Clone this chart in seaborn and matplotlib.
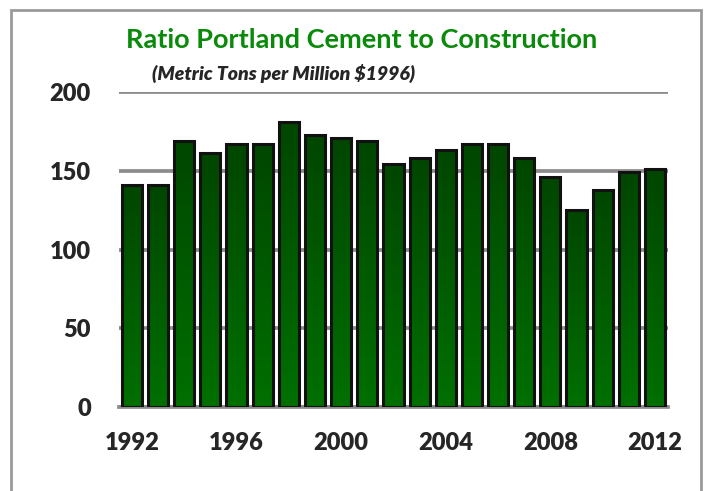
import numpy as np
import pandas as pd
import matplotlib
matplotlib.use("Agg")
import matplotlib.pyplot as plt
from matplotlib.colors import LinearSegmentedColormap
from matplotlib.patches import Rectangle
import seaborn as sns

# data
years = [str(y) for y in range(1992, 2013)]
ratio = [141, 141, 169, 161, 167, 167, 181, 173, 171, 169, 154, 158,
         163, 167, 167, 158, 146, 125, 138, 149, 151]
tick_years = ["1992", "1996", "2000", "2004", "2008", "2012"]
y_ticks = [0, 50, 100, 150, 200]

df = pd.DataFrame({"year": years, "ratio": ratio})

sns.set_style("white")
plt.rcParams['font.family'] = ['Lato', 'DejaVu Sans']

fig = plt.figure(figsize=(7.07, 4.91), dpi=100)
ax = fig.add_axes([0.168, 0.171, 0.777, 0.6416])

sns.barplot(data=df, x="year", y="ratio", ax=ax, width=0.77,
            color="#005a00", edgecolor="#111111", linewidth=2.2,
            saturation=1, zorder=3)

# vertical gradient in each bar, darker at the top
cmap = LinearSegmentedColormap.from_list("g", ["#004600", "#007000"])
grad = np.linspace(0, 1, 256).reshape(-1, 1)
for p in ax.patches:
    x0, y0 = p.get_x(), p.get_y()
    w, h = p.get_width(), p.get_height()
    im = ax.imshow(grad, cmap=cmap, aspect="auto", origin="upper",
                   extent=[x0, x0 + w, y0, y0 + h], zorder=3.5)
    im.set_clip_path(p)
    p.set_facecolor("none")
    p.set_zorder(4)

ax.set_xlim(-0.5, len(years) - 0.5)
ax.set_ylim(0, 200)
ax.set_yticks(y_ticks)
ax.yaxis.grid(True, color="#8c8c8c", linewidth=2.7, zorder=0)
ax.set_axisbelow(True)

ax.set_xticks([years.index(t) for t in tick_years])
ax.set_xticklabels(tick_years)
ax.set_xticks([i - 0.5 for i in range(0, len(years), 4)], minor=True)
ax.tick_params(axis="x", which="major", length=0, pad=18, labelsize=17)
ax.tick_params(axis="x", which="minor", length=7, width=2.2, color="#8c8c8c")
ax.tick_params(axis="y", length=0, pad=20, labelsize=17)
for lab in ax.get_xticklabels() + ax.get_yticklabels():
    lab.set_fontweight("heavy")

for s in ["top", "right", "left"]:
    ax.spines[s].set_visible(False)
ax.spines["bottom"].set_color("#8c8c8c")
ax.spines["bottom"].set_linewidth(2.7)
ax.set_xlabel("")
ax.set_ylabel("")

fig.text(362 / 707, 0.918, "Ratio Portland Cement to Construction",
         color="#0a8a0a", fontsize=19.5, fontweight="bold",
         ha="center", va="center")
fig.text(284 / 707, 0.851, "(Metric Tons per Million $1996)",
         fontsize=14, fontweight="heavy", style="italic",
         ha="center", va="center")

fig.patches.append(Rectangle((11 / 707, -0.1), 690 / 707, 1.1 - 10 / 491,
                             transform=fig.transFigure, fill=False,
                             edgecolor="#9a9a9a", linewidth=2))

fig.savefig("out.png", dpi=100)
